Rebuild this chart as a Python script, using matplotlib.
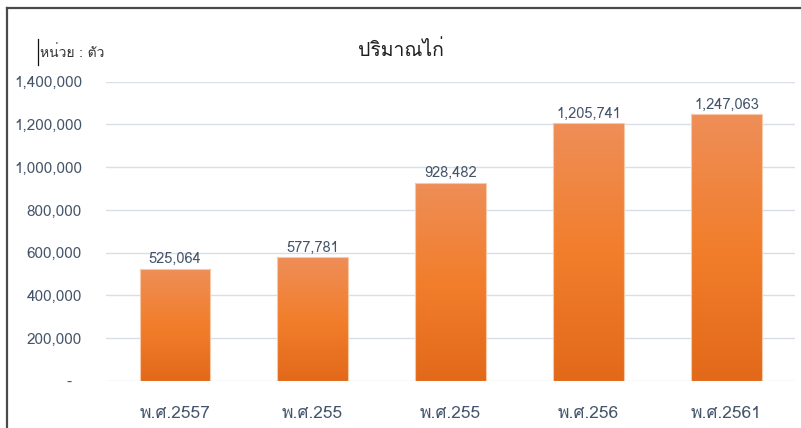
import numpy as np
import matplotlib
matplotlib.use("Agg")
import matplotlib.pyplot as plt
from matplotlib import font_manager
from matplotlib.ft2font import FT2Font
from matplotlib.colors import LinearSegmentedColormap
from matplotlib.lines import Line2D

# data
years = ["พ.ศ.2557", "พ.ศ.255", "พ.ศ.255", "พ.ศ.256", "พ.ศ.2561"]
chickens = [525064, 577781, 928482, 1205741, 1247063]
yticks = [0, 200000, 400000, 600000, 800000, 1000000, 1200000, 1400000]

# find something that can draw Thai
thai = None
for f in font_manager.fontManager.ttflist:
    try:
        if 0x0E01 in FT2Font(f.fname).get_charmap():
            thai = f.name
            break
    except Exception:
        pass
fams = [thai, "DejaVu Sans"] if thai else ["DejaVu Sans"]
plt.rcParams["font.family"] = fams

txt = "#44546A"

fig = plt.figure(figsize=(8.01, 4.28), dpi=100)
ax = fig.add_axes([0.132, 0.110, 0.861, 0.699])

x = np.arange(len(years))
bars = ax.bar(x, chickens, width=0.51, color="none", edgecolor="#F6C9A8", linewidth=0.8, zorder=3)

cmap = LinearSegmentedColormap.from_list("org", ["#E2691A", "#F27E2C", "#EE8E58"])
grad = np.linspace(0, 1, 256).reshape(-1, 1)
for b in bars:
    x0, w, h = b.get_x(), b.get_width(), b.get_height()
    im = ax.imshow(grad, extent=[x0, x0 + w, 0, h], origin="lower", aspect="auto",
                   cmap=cmap, zorder=2)
    im.set_clip_path(b)

for xi, v in zip(x, chickens):
    ax.text(xi, v + 12000, f"{v:,}", ha="center", va="bottom", fontsize=10.5, color=txt)

ax.set_xlim(-0.5, len(years) - 0.5)
ax.set_ylim(0, 1400000)
ax.set_yticks(yticks)
ax.set_yticklabels(["-  "] + [f"{t:,}" for t in yticks[1:]])
ax.set_xticks(x)
ax.set_xticklabels(years)
ax.tick_params(axis="y", length=0, pad=17, labelsize=11, labelcolor=txt)
ax.tick_params(axis="x", length=0, pad=18, labelsize=12.5, labelcolor=txt)
ax.grid(axis="y", color="#D9DEE8", linewidth=1, zorder=0)
ax.set_axisbelow(True)
for s in ax.spines.values():
    s.set_visible(False)

fig.text(0.5, 0.882, "ปริมาณไก่", ha="center", va="center", fontsize=14, color="#1F1F1F")
fig.text(0.05, 0.878, "หน่วย : ตัว", ha="left", va="center", fontsize=10, color="#333333")

# outer frame (top and left only visible) and the stray cursor
fig.add_artist(Line2D([0.009, 1.0], [0.981, 0.981], color="#4A4A4A", linewidth=1.6))
fig.add_artist(Line2D([0.009, 0.009], [0.0, 0.981], color="#4A4A4A", linewidth=1.6))
fig.add_artist(Line2D([0.048, 0.048], [0.848, 0.908], color="#111111", linewidth=0.9))

fig.savefig("out.png", dpi=100)
